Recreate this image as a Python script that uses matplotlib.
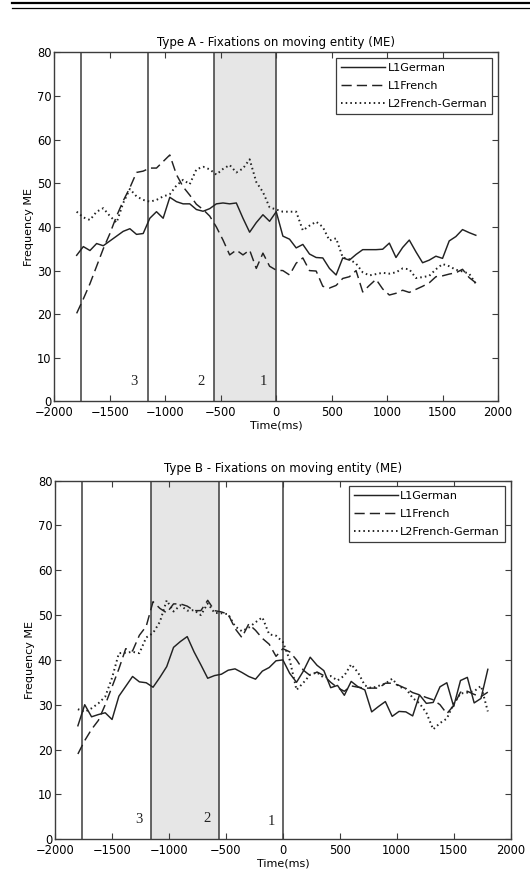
import numpy as np
import matplotlib
matplotlib.use("Agg")
import matplotlib.pyplot as plt
from matplotlib.lines import Line2D

plt.rcParams['font.family'] = ['DejaVu Sans']

# time axis (ms), one sample every 60 ms
time_ms = np.arange(-1800, 1801, 60)

# Type A
a_german = [33.5, 35.5, 34.6, 36.2, 35.7, 36.8, 37.9, 39.0, 39.6, 38.3,
            38.5, 42.0, 43.5, 42.0, 46.8, 45.8, 45.3, 45.3, 44.0, 43.6,
            44.2, 45.3, 45.5, 45.3, 45.5, 42.0, 38.8, 41.0, 42.8, 41.3,
            43.5, 37.9, 37.2, 35.2, 36.0, 33.8, 33.0, 32.9, 30.5, 29.0,
            32.9, 32.4, 33.7, 34.8, 34.8, 34.8, 34.9, 36.3, 33.0, 35.3,
            37.0, 34.3, 31.8, 32.4, 33.3, 32.8, 36.8, 37.8, 39.4, 38.7, 38.1]
a_french = [20.2, 23.5, 27.0, 31.0, 35.0, 38.5, 42.5, 46.0, 49.0, 52.5,
            52.8, 53.5, 53.5, 55.0, 56.5, 52.0, 49.2, 47.3, 45.2, 44.0,
            42.5, 40.0, 37.0, 33.6, 34.7, 33.6, 34.7, 30.5, 34.0, 31.0,
            30.1, 30.0, 29.0, 31.7, 32.9, 30.0, 29.9, 26.4, 26.0, 26.6,
            28.2, 28.6, 30.0, 25.1, 26.6, 28.0, 25.8, 24.4, 24.8, 25.5,
            25.0, 25.7, 26.4, 27.2, 28.6, 28.8, 29.2, 29.5, 30.3, 28.4, 27.2]
a_l2 = [43.5, 42.2, 41.6, 43.5, 44.3, 42.5, 41.0, 45.5, 48.7, 47.0,
        46.2, 45.8, 46.2, 47.0, 47.5, 49.5, 50.8, 49.8, 53.2, 53.8,
        53.2, 52.0, 53.3, 54.2, 52.5, 53.4, 55.5, 50.3, 48.0, 44.5,
        44.0, 43.5, 43.5, 43.5, 39.2, 40.3, 41.2, 40.0, 36.9, 37.4,
        33.0, 32.6, 31.6, 29.6, 28.9, 29.2, 29.5, 29.3, 29.6, 30.5,
        30.3, 28.3, 28.5, 28.8, 30.3, 31.5, 31.0, 30.2, 29.8, 29.3, 27.0]

# Type B
b_german = [25.3, 30.0, 27.3, 27.8, 28.2, 26.7, 31.9, 34.1, 36.3, 35.1,
            34.9, 33.9, 36.1, 38.5, 42.8, 44.1, 45.2, 41.8, 38.9, 35.9,
            36.5, 36.8, 37.7, 38.0, 37.2, 36.3, 35.7, 37.5, 38.3, 39.8,
            40.0, 37.0, 35.0, 37.5, 40.6, 38.8, 37.6, 33.8, 34.3, 32.1,
            35.2, 34.0, 33.3, 28.4, 29.6, 30.7, 27.4, 28.5, 28.4, 27.5,
            32.2, 30.3, 30.5, 34.0, 34.9, 29.6, 35.4, 36.1, 30.4, 31.4, 37.9]
b_french = [19.0, 22.0, 24.5, 26.5, 30.0, 34.0, 38.0, 42.5, 42.0, 45.5,
            47.5, 53.0, 51.5, 50.5, 52.5, 52.5, 52.0, 51.0, 51.0, 53.3,
            51.0, 50.7, 50.2, 47.0, 45.0, 48.0, 46.6, 44.8, 43.5, 40.8,
            42.5, 41.8, 40.0, 37.7, 36.5, 37.3, 36.5, 35.0, 33.8, 33.0,
            34.2, 33.9, 33.7, 33.7, 33.7, 34.8, 34.8, 34.3, 33.6, 32.7,
            32.2, 31.6, 31.1, 30.0, 28.0, 29.8, 32.8, 33.0, 32.3, 31.8, 32.8]
b_l2 = [29.0, 28.4, 29.2, 30.3, 31.8, 36.0, 41.5, 41.6, 41.8, 41.5,
        45.0, 46.0, 48.5, 53.3, 50.8, 52.2, 51.0, 51.1, 50.0, 52.6,
        50.5, 50.4, 50.2, 47.5, 46.4, 47.2, 48.4, 49.5, 45.7, 45.4,
        44.0, 40.0, 33.3, 34.9, 36.7, 37.2, 36.0, 36.4, 35.4, 36.5,
        39.0, 37.2, 34.3, 33.7, 34.2, 34.7, 35.8, 34.0, 33.6, 31.5,
        30.3, 28.2, 24.5, 25.9, 26.9, 30.2, 32.5, 32.7, 33.0, 34.2, 28.5]

phase_bounds = [-1760, -1160, -560, 0]
phase_names = ['3', '2', '1']
series_names = ['L1German', 'L1French', 'L2French-German']

LINE_COL = '#222222'
EDGE_COL = '#3c3c3c'


def draw_panel(ax, title, german, french, l2, shade_idx, num_x, num_y, title_pad):
    lo, hi = phase_bounds[shade_idx], phase_bounds[shade_idx + 1]
    ax.axvspan(lo, hi, color='#e6e6e6', lw=0, zorder=0)
    for b in phase_bounds:
        ax.axvline(b, color=EDGE_COL, lw=1.1, zorder=1)

    ax.plot(time_ms, german, color=LINE_COL, lw=1.05, label=series_names[0], zorder=3)
    ax.plot(time_ms, french, color=LINE_COL, lw=1.05, dashes=(7, 3.5),
            label=series_names[1], zorder=3)
    ax.plot(time_ms, l2, color=LINE_COL, lw=1.4, dashes=(0.8, 1.6),
            label=series_names[2], zorder=3)

    for name, x, y in zip(phase_names, num_x, num_y):
        ax.text(x, y, name, family='Liberation Serif', fontsize=10.5,
                ha='center', va='center', color='#222222')

    ax.set_xlim(-2000, 2000)
    ax.set_ylim(0, 80)
    ax.set_xticks(np.arange(-2000, 2001, 500))
    ax.set_yticks(np.arange(0, 81, 10))
    ax.tick_params(direction='in', top=True, right=True, length=4, width=0.8,
                   labelsize=8.3, color=EDGE_COL)
    ax.tick_params(axis='x', pad=3.5)
    ax.tick_params(axis='y', pad=2)
    for sp in ax.spines.values():
        sp.set_color(EDGE_COL)
        sp.set_linewidth(1.0)

    ax.set_title(title, fontsize=8.5, pad=title_pad)
    ax.set_xlabel('Time(ms)', fontsize=8, labelpad=1)
    ax.set_ylabel('Frequency ME', fontsize=8, labelpad=2)

    leg = ax.legend(loc='upper right', fontsize=8, frameon=True, fancybox=False,
                    handlelength=4.0, handletextpad=0.2, borderaxespad=0.5,
                    labelspacing=0.7, borderpad=0.45)
    leg.get_frame().set_edgecolor(EDGE_COL)
    leg.get_frame().set_linewidth(0.9)
    leg.get_frame().set_alpha(1)


fig = plt.figure(figsize=(5.30, 8.77), dpi=100)
ax_a = fig.add_axes([0.1028, 0.5422, 0.8368, 0.398])
ax_b = fig.add_axes([0.1040, 0.0432, 0.8594, 0.4087])

draw_panel(ax_a, 'Type A - Fixations on moving entity (ME)', a_german, a_french, a_l2,
           2, [-1281, -681, -114], [4.6, 4.6, 4.6], 4.3)
draw_panel(ax_b, 'Type B - Fixations on moving entity (ME)', b_german, b_french, b_l2,
           1, [-1267, -667, -104], [4.3, 4.7, 4.0], 6.6)

# double rule at the top of the page
fig.add_artist(Line2D([12 / 530, 1], [1 - 3.4 / 877] * 2, color='black', lw=1.6))
fig.add_artist(Line2D([12 / 530, 1], [1 - 8.1 / 877] * 2, color='black', lw=0.9))

fig.savefig('out.png', dpi=100)
